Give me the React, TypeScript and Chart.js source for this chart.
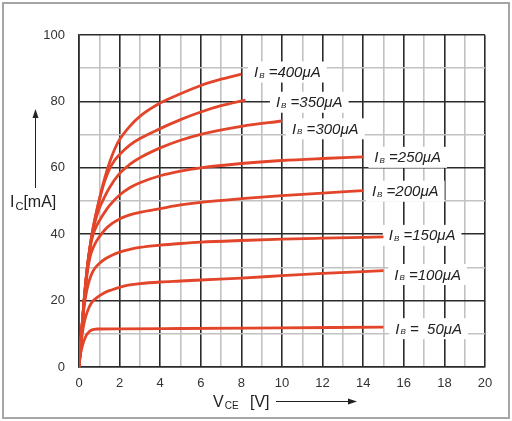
import React, { useEffect, useRef } from "react";
import { Chart, registerables } from "chart.js";

Chart.register(...registerables);

// V_CE [V] / I_C [mA] points for each base current
const ib400V = [0, 0.12, 0.25, 0.4, 0.55, 0.7, 0.85, 1.0, 1.25, 1.5, 1.75, 2, 2.5, 3, 4, 5, 6, 7, 8];
const ib400I = [0, 10, 20, 29.5, 36.5, 42, 46.5, 50.5, 56.5, 61.5, 65.5, 68.5, 72.5, 75.5, 79.5, 82.3, 84.8, 86.7, 88.2];
const ib350V = [0, 0.12, 0.25, 0.4, 0.55, 0.7, 0.85, 1.0, 1.25, 1.5, 1.75, 2, 2.5, 3, 4, 5, 6, 7, 8.2];
const ib350I = [0, 10, 20, 29.5, 36.5, 42, 46.3, 50.2, 55.7, 59.6, 62.2, 64, 66.8, 68.8, 71.8, 74.5, 76.8, 78.7, 80.4];
const ib300V = [0, 0.12, 0.25, 0.4, 0.55, 0.7, 0.85, 1.0, 1.24, 1.5, 2, 2.5, 3, 4, 5, 6, 8, 10];
const ib300I = [0, 10, 20, 29.5, 36.3, 41.5, 45, 47.8, 51, 54, 58.3, 61, 63, 66, 68.3, 70.1, 72.5, 74.1];
const ib250V = [0, 0.12, 0.25, 0.4, 0.55, 0.7, 0.85, 1.0, 1.2, 1.5, 2, 2.5, 3, 4, 5, 6, 8, 10, 12, 14];
const ib250I = [0, 10, 20, 29.5, 36, 40, 42.3, 44, 46, 48.6, 51.8, 54, 55.5, 57.6, 59, 60, 61.3, 62.2, 62.8, 63.3];
const ib200V = [0, 0.12, 0.25, 0.4, 0.55, 0.74, 1.0, 1.3, 1.6, 2, 2.5, 3, 4, 5, 6, 8, 10, 12, 14];
const ib200I = [0, 10, 19.5, 28, 33.3, 36.5, 39.2, 41.5, 43.1, 44.6, 45.8, 46.6, 47.7, 48.8, 49.6, 50.7, 51.6, 52.4, 53.1];
const ib150V = [0, 0.12, 0.25, 0.38, 0.5, 0.66, 0.8, 1.0, 1.3, 1.6, 2, 2.5, 3, 4, 5, 6, 8, 10, 12, 15];
const ib150I = [0, 9.5, 18, 23, 25.9, 28.5, 29.9, 31.2, 32.6, 33.6, 34.6, 35.4, 36, 36.7, 37.2, 37.6, 38.1, 38.5, 38.8, 39.2];
const ib100V = [0, 0.08, 0.16, 0.25, 0.33, 0.5, 0.65, 0.82, 1.0, 1.3, 1.6, 2, 2.5, 3, 4, 5, 6, 8, 10, 12, 15];
const ib100I = [0, 5, 10, 13.2, 15.2, 18, 19.6, 20.6, 21.4, 22.5, 23.2, 24, 24.7, 25.1, 25.6, 25.9, 26.2, 26.8, 27.5, 28.2, 29];
const ib50V = [0, 0.05, 0.16, 0.33, 0.45, 0.58, 0.75, 0.9, 2, 5, 10, 15];
const ib50I = [0, 3, 6.2, 9.2, 10.3, 11, 11.35, 11.45, 11.5, 11.6, 11.8, 12];

const seriesV = [ib400V, ib350V, ib300V, ib250V, ib200V, ib150V, ib100V, ib50V];
const seriesI = [ib400I, ib350I, ib300I, ib250I, ib200I, ib150I, ib100I, ib50I];

// curve labels
const labelText = [" =400μA", " =350μA", " =300μA", " =250μA", " =200μA", " =150μA", " =100μA", " =  50μA"];
const labelV = [8.62, 9.7, 10.49, 14.55, 14.43, 15.26, 15.53, 15.58];
const labelI = [89.0, 79.9, 71.9, 63.3, 53.1, 39.8, 28.0, 11.7];

const xTicks = [0, 2, 4, 6, 8, 10, 12, 14, 16, 18, 20];
const yTicks = [0, 20, 40, 60, 80, 100];

const FONT = '"Liberation Sans", Arial, sans-serif';
const RED = "#e2452a";

const overlay = {
  id: "overlay",
  beforeDatasetsDraw(chart: any) {
    const { ctx, scales } = chart;
    const x = scales.x, y = scales.y;
    ctx.save();
    labelText.forEach((txt, i) => {
      const px = x.getPixelForValue(labelV[i]);
      const py = y.getPixelForValue(labelI[i]);
      ctx.font = `italic 15px ${FONT}`;
      const wI = ctx.measureText("I").width;
      const wR = ctx.measureText(txt).width;
      ctx.font = `italic 8px ${FONT}`;
      const wB = ctx.measureText("B").width;
      const total = wI + wB + 1 + wR;
      ctx.fillStyle = "#ffffff";
      ctx.fillRect(px - 6, py - 10, total + 12, 21);
      ctx.fillStyle = "#222222";
      ctx.textBaseline = "alphabetic";
      ctx.textAlign = "left";
      ctx.font = `italic 15px ${FONT}`;
      ctx.fillText("I", px, py + 5.5);
      ctx.font = `italic 8px ${FONT}`;
      ctx.fillText("B", px + wI + 1, py + 6);
      ctx.font = `italic 15px ${FONT}`;
      ctx.fillText(txt, px + wI + 1 + wB, py + 5.5);
    });
    ctx.restore();
  },
  afterDraw(chart: any) {
    const { ctx } = chart;
    ctx.save();
    // frame
    ctx.strokeStyle = "#a6a6a6";
    ctx.lineWidth = 2;
    ctx.strokeRect(3, 3, 506, 415);
    ctx.fillStyle = "#222222";
    ctx.strokeStyle = "#222222";
    ctx.textAlign = "left";
    ctx.textBaseline = "alphabetic";
    // y title
    ctx.font = `16px ${FONT}`;
    ctx.fillText("I", 10, 207);
    const wI = ctx.measureText("I").width;
    ctx.font = `11px ${FONT}`;
    ctx.fillText("C", 10 + wI + 1, 210);
    const wC = ctx.measureText("C").width;
    ctx.font = `16px ${FONT}`;
    ctx.fillText("[mA]", 10 + wI + 1 + wC, 207);
    // up arrow
    ctx.lineWidth = 1;
    ctx.beginPath();
    ctx.moveTo(35.5, 188);
    ctx.lineTo(35.5, 116);
    ctx.stroke();
    ctx.beginPath();
    ctx.moveTo(35.5, 109);
    ctx.lineTo(32.5, 118);
    ctx.lineTo(38.5, 118);
    ctx.closePath();
    ctx.fill();
    // x title
    ctx.font = `16px ${FONT}`;
    ctx.fillText("V", 213, 407);
    const wV = ctx.measureText("V").width;
    ctx.font = `10px ${FONT}`;
    ctx.fillText("CE", 213 + wV + 1, 409);
    ctx.font = `16px ${FONT}`;
    ctx.fillText("[V]", 250, 407);
    ctx.beginPath();
    ctx.moveTo(276, 401.5);
    ctx.lineTo(350, 401.5);
    ctx.stroke();
    ctx.beginPath();
    ctx.moveTo(357, 401.5);
    ctx.lineTo(348, 398.5);
    ctx.lineTo(348, 404.5);
    ctx.closePath();
    ctx.fill();
    ctx.restore();
  },
};

export default function App() {
  const ref = useRef<HTMLCanvasElement>(null);
  useEffect(() => {
    document.body.style.margin = "0";
    const canvas = ref.current!;
    const datasets = seriesV.map((vs, k) => ({
      data: vs.map((v, j) => ({ x: v, y: seriesI[k][j] })),
      borderColor: RED,
      backgroundColor: RED,
      borderWidth: 2.8,
      pointRadius: 0,
      fill: false,
      cubicInterpolationMode: "monotone" as const,
      borderCapStyle: "butt" as const,
    }));
    const chart = new Chart(canvas, {
      type: "line",
      data: { datasets },
      options: {
        animation: false,
        responsive: false,
        maintainAspectRatio: false,
        layout: { padding: { left: 0, right: 27, top: 35, bottom: 0 } },
        plugins: { legend: { display: false }, tooltip: { enabled: false } },
        scales: {
          x: {
            type: "linear",
            min: 0,
            max: 20,
            afterBuildTicks: (axis: any) => {
              const t = [];
              for (let v = 0; v <= 20; v++) t.push({ value: v });
              axis.ticks = t;
            },
            afterFit: (axis: any) => {
              axis.height = 54;
            },
            ticks: {
              autoSkip: false,
              maxRotation: 0,
              padding: 9,
              color: "#333333",
              font: { family: FONT, size: 13 },
              callback: (v: any) => (xTicks.includes(Number(v)) ? String(v) : ""),
            },
            grid: {
              drawTicks: false,
              color: (c: any) => (Number(c.tick?.value) % 2 === 0 ? "#2b2b2b" : "#c2c2c2"),
              lineWidth: 1.6,
            },
            border: { display: true, color: "#2b2b2b", width: 1.6 },
          },
          y: {
            type: "linear",
            min: 0,
            max: 100,
            afterBuildTicks: (axis: any) => {
              const t = [];
              for (let v = 0; v <= 100; v += 10) t.push({ value: v });
              axis.ticks = t;
            },
            afterFit: (axis: any) => {
              axis.width = 79;
            },
            ticks: {
              autoSkip: false,
              padding: 14,
              color: "#333333",
              font: { family: FONT, size: 13 },
              callback: (v: any) => (yTicks.includes(Number(v)) ? String(v) : ""),
            },
            grid: {
              drawTicks: false,
              color: (c: any) => (Number(c.tick?.value) % 20 === 0 ? "#2b2b2b" : "#c2c2c2"),
              lineWidth: 1.6,
            },
            border: { display: true, color: "#2b2b2b", width: 1.6 },
          },
        },
      },
      plugins: [overlay],
    });
    return () => chart.destroy();
  }, []);
  return (
    <canvas ref={ref} width={512} height={421} style={{ display: "block", width: 512, height: 421 }} />
  );
}
